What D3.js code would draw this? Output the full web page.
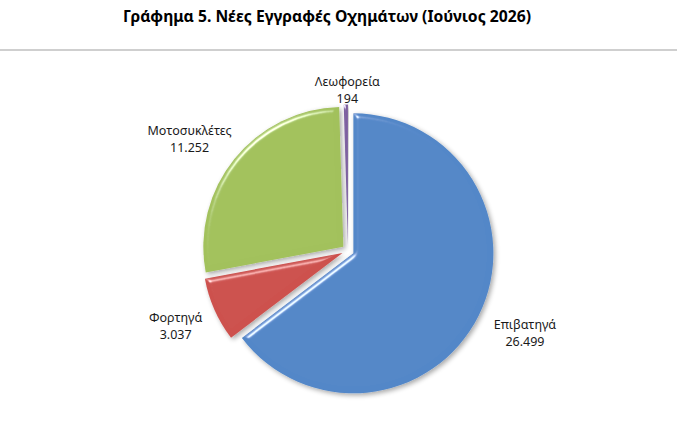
<!DOCTYPE html>
<html>
<head>
<meta charset="utf-8">
<script src="https://cdn.jsdelivr.net/npm/d3@7"></script>
<style>
  body { margin: 0; background: #fff; }
  text { font-family: "Noto Sans", "DejaVu Sans", sans-serif; fill: #1a1a1a; }
</style>
</head>
<body>
<div id="chart"></div>
<script>
// Data
var categories = ["Επιβατηγά", "Φορτηγά", "Μοτοσυκλέτες", "Λεωφορεία"]
var values = [26499, 3037, 11252, 194]
var valueLabels = ["26.499", "3.037", "11.252", "194"]
var colors = ["#5387c8", "#cd514e", "#a2c15c", "#7d60a0"]
var title = "Γράφημα 5. Νέες Εγγραφές Οχημάτων (Ιούνιος 2026)"

var width = 677, height = 432
var cx = 348, cy = 250.6, radius = 140, explode = 6

var svg = d3.select("#chart")
  .append("svg")
    .attr("width", width)
    .attr("height", height)

// Bevel + shadow filter
var defs = svg.append("defs")
var f = defs.append("filter")
    .attr("id", "bevel")
    .attr("x", "-10%").attr("y", "-10%")
    .attr("width", "120%").attr("height", "120%")
f.append("feGaussianBlur").attr("in", "SourceAlpha").attr("stdDeviation", 2.5).attr("result", "blur")
var spec = f.append("feSpecularLighting")
    .attr("in", "blur")
    .attr("surfaceScale", 4)
    .attr("specularConstant", 1)
    .attr("specularExponent", 40)
    .attr("lighting-color", "#ffffff")
    .attr("result", "spec")
spec.append("feDistantLight").attr("azimuth", 235).attr("elevation", 30)
f.append("feComposite").attr("in", "spec").attr("in2", "SourceAlpha").attr("operator", "in").attr("result", "specIn")
f.append("feComposite").attr("in", "SourceGraphic").attr("in2", "specIn")
    .attr("operator", "arithmetic").attr("k1", 0).attr("k2", 1).attr("k3", 0.8).attr("k4", 0)
    .attr("result", "lit")
f.append("feOffset").attr("in", "blur").attr("dx", 1.5).attr("dy", 2).attr("result", "off")
f.append("feComponentTransfer").attr("in", "off").attr("result", "shadow")
  .append("feFuncA").attr("type", "linear").attr("slope", 0.35)
var merge = f.append("feMerge")
merge.append("feMergeNode").attr("in", "shadow")
merge.append("feMergeNode").attr("in", "lit")

// Title
svg.append("text")
    .attr("x", 327)
    .attr("y", 22)
    .attr("text-anchor", "middle")
    .attr("textLength", 408)
    .attr("lengthAdjust", "spacingAndGlyphs")
    .style("font-weight", "bold")
    .style("font-size", "16.5px")
    .style("fill", "#000")
    .text(title)

svg.append("line")
    .attr("x1", 0).attr("x2", width)
    .attr("y1", 50).attr("y2", 50)
    .style("stroke", "#a0a0a0")
    .style("stroke-width", 1.2)

var pie = d3.pie().sort(null).value(function(d) { return d })
var arcs = pie(values)

var arc = d3.arc().innerRadius(0).outerRadius(radius)

function dir(d) {
  var a = (d.startAngle + d.endAngle) / 2
  return [Math.sin(a), -Math.cos(a)]
}

var g = svg.append("g")
    .attr("transform", "translate(" + cx + "," + cy + ")")

g.selectAll("path.slice")
  .data(arcs)
  .enter().append("path")
    .classed("slice", true)
    .attr("d", arc)
    .attr("transform", function(d) {
      var v = dir(d)
      return "translate(" + (v[0] * explode) + "," + (v[1] * explode) + ")"
    })
    .style("fill", function(d, i) { return colors[i] })
    .attr("filter", "url(#bevel)")

// Labels, placed outside the slice edge
var labels = g.selectAll("g.label")
  .data(arcs)
  .enter().append("g")
    .classed("label", true)

labels.append("text")
    .attr("text-anchor", "middle")
    .attr("y", -8)
    .style("font-size", "12.5px")
    .text(function(d, i) { return categories[i] })
labels.append("text")
    .attr("text-anchor", "middle")
    .attr("y", 9)
    .style("font-size", "12.5px")
    .text(function(d, i) { return valueLabels[i] })

labels.attr("transform", function(d) {
  var v = dir(d)
  var bb = this.getBBox()
  var thin = (d.endAngle - d.startAngle) < 0.05
  var r = radius + (thin ? 6 : 24)
  var px = v[0] * r + v[0] * bb.width / 2
  var py = v[1] * r + v[1] * bb.height / 2
  return "translate(" + (px + 2) + "," + (py + 6) + ")"
})
</script>
</body>
</html>
